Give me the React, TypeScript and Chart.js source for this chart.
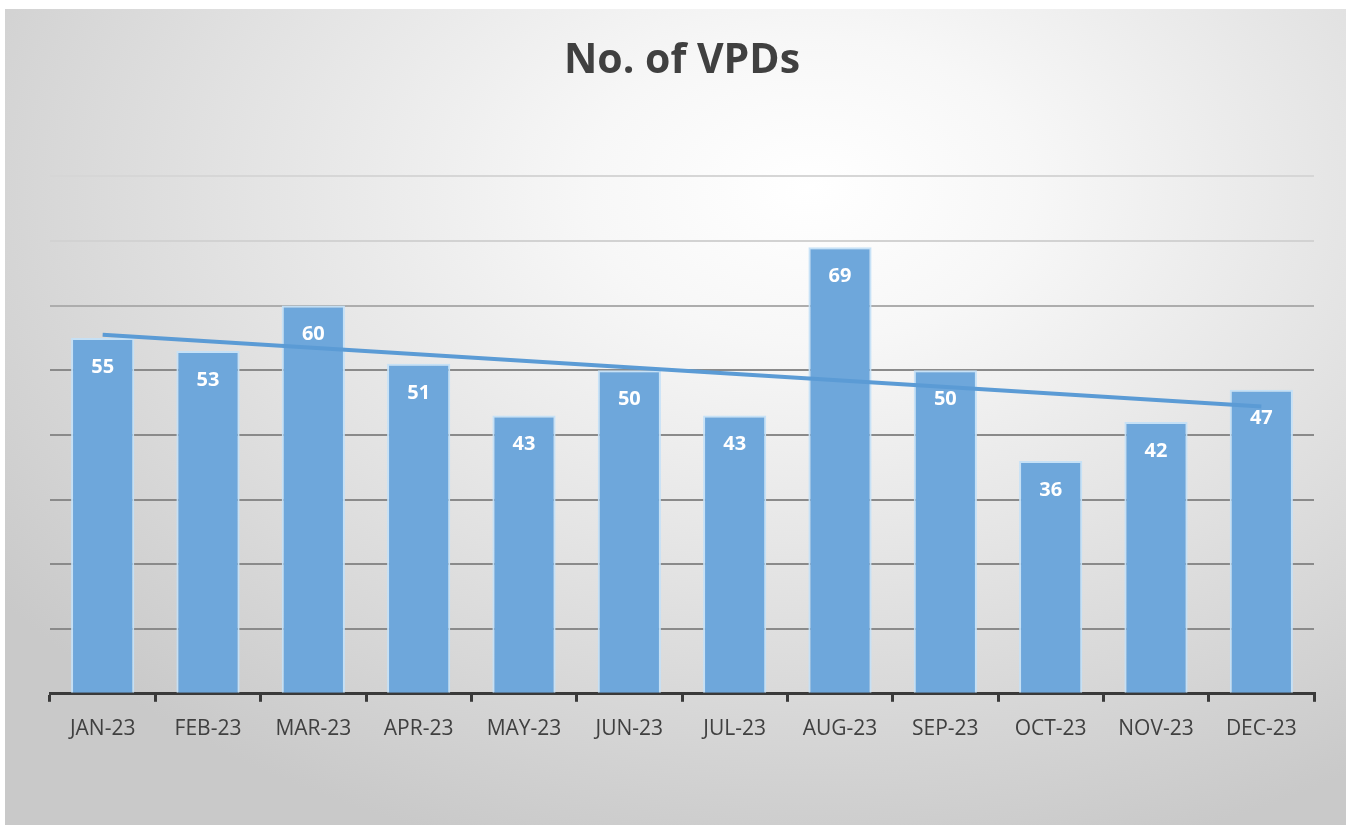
import React, { useEffect, useRef } from "react";
import { Chart, registerables } from "chart.js";

Chart.register(...registerables);

const categories = ["JAN-23", "FEB-23", "MAR-23", "APR-23", "MAY-23", "JUN-23", "JUL-23", "AUG-23", "SEP-23", "OCT-23", "NOV-23", "DEC-23"];
const vpdValues = [55, 53, 60, 51, 43, 50, 43, 69, 50, 36, 42, 47];
// Linear trendline end points (Jan and Dec)
const trendValues = [55.5, null, null, null, null, null, null, null, null, null, null, 44.4];
const yTicks = [0, 10, 20, 30, 40, 50, 60, 70, 80];

const FONT = "'Open Sans', 'DejaVu Sans', sans-serif";

const gridColorFor = (v: number) => {
  if (v <= 0) return "rgba(0,0,0,0)";
  if (v >= 80) return "#d6d6d6";
  if (v >= 70) return "#d2d2d2";
  if (v >= 60) return "#adadad";
  return "#8a8a8a";
};

const labelPlugin = {
  id: "barLabels",
  afterDatasetsDraw(chart: any) {
    const meta = chart.getDatasetMeta(0);
    const ctx = chart.ctx;
    ctx.save();
    ctx.fillStyle = "#ffffff";
    ctx.font = `bold 20px ${FONT}`;
    ctx.textAlign = "center";
    ctx.textBaseline = "middle";
    meta.data.forEach((bar: any, i: number) => {
      ctx.fillText(String(vpdValues[i]), bar.x, bar.y + 29);
    });
    ctx.restore();
  },
};

export default function App() {
  const ref = useRef<HTMLCanvasElement | null>(null);
  useEffect(() => {
    document.body.style.margin = "0";
    if (!ref.current) return;
    const chart = new Chart(ref.current, {
      type: "bar",
      data: {
        labels: categories,
        datasets: [
          {
            type: "bar",
            data: vpdValues,
            backgroundColor: "rgba(110,167,219,1)",
            borderColor: "rgba(196,224,247,0.95)",
            borderWidth: 2,
            barPercentage: 0.6,
            categoryPercentage: 1,
            order: 2,
          },
          {
            type: "line",
            data: trendValues as any,
            borderColor: "#5b9bd5",
            borderWidth: 4,
            pointRadius: 0,
            spanGaps: true,
            order: 1,
          } as any,
        ],
      },
      options: {
        responsive: false,
        animation: false,
        layout: { padding: { left: 45, right: 32, top: 0, bottom: 68 } },
        plugins: {
          legend: { display: false },
          tooltip: { enabled: false },
          title: {
            display: true,
            text: "No. of VPDs",
            color: "#404040",
            font: { family: FONT, size: 41, weight: "bold" },
            padding: { top: 28, bottom: 90 },
          },
        },
        scales: {
          x: {
            offset: true,
            border: { display: true, color: "#3a3a3a", width: 3 },
            grid: {
              display: true,
              offset: true,
              drawOnChartArea: false,
              drawTicks: true,
              tickLength: 8,
              color: "#3a3a3a",
              lineWidth: 3,
            },
            ticks: {
              color: "#404040",
              font: { family: FONT, size: 21 },
              padding: 15,
              maxRotation: 0,
              autoSkip: false,
            },
          },
          y: {
            min: yTicks[0],
            max: yTicks[yTicks.length - 1],
            afterBuildTicks: (axis: any) => {
              axis.ticks = yTicks.map((v) => ({ value: v }));
            },
            border: { display: false },
            grid: {
              drawTicks: false,
              lineWidth: 2,
              color: (c: any) => gridColorFor(c.tick ? c.tick.value : 0),
            },
            ticks: { display: false },
          },
        },
      },
      plugins: [labelPlugin],
    });
    return () => chart.destroy();
  }, []);

  return (
    <div
      style={{
        position: "fixed",
        left: 5,
        top: 9,
        width: 1341,
        height: 816,
        background:
          "radial-gradient(ellipse 75% 85% at 60% 22%, #ffffff 0%, #f7f7f7 22%, #e4e4e4 55%, #c9c9c9 100%)",
      }}
    >
      <canvas ref={ref} width={1341} height={816} style={{ display: "block" }} />
    </div>
  );
}
